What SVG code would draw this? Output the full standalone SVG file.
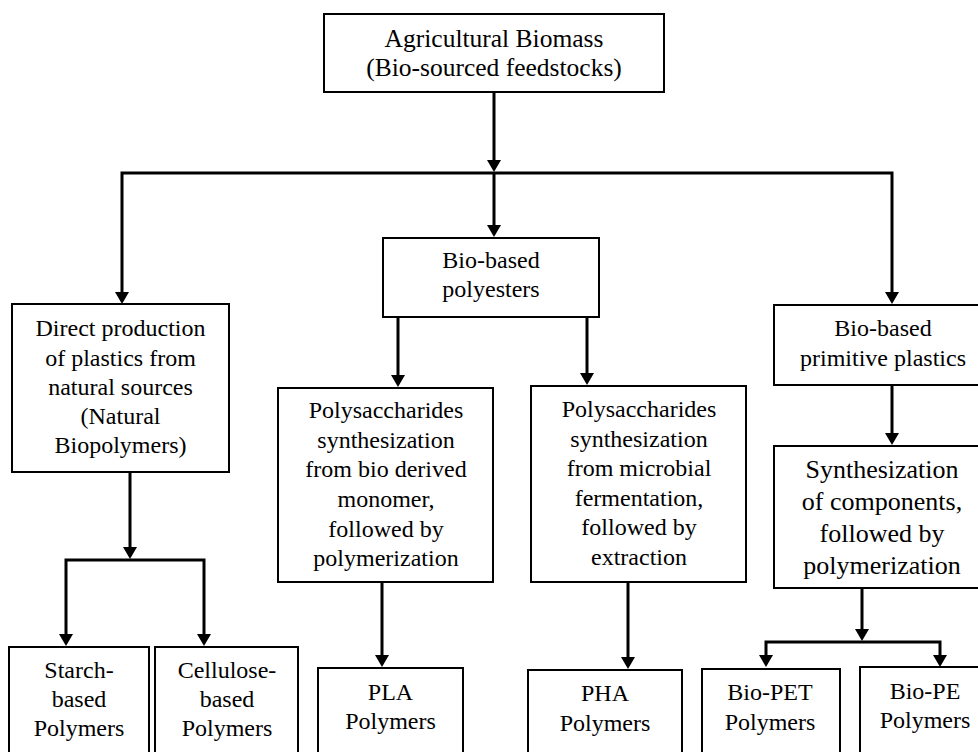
<svg xmlns="http://www.w3.org/2000/svg" width="978" height="752" viewBox="0 0 978 752">
<defs>
<style>
.box{fill:#fff;stroke:#000;stroke-width:2}
.lbl{font-size:24px;fill:#000;text-anchor:middle}
.big{font-size:25.5px}
.syn{font-size:26px}
.c{fill:none;stroke:#000;stroke-width:3}
</style>
<marker id="ah" markerUnits="userSpaceOnUse" markerWidth="12" markerHeight="14" viewBox="0 0 12 14" refX="8" refY="7" orient="auto-start-reverse">
<path d="M0,0 L12,7 L0,14 z" fill="#000"/>
</marker>
</defs>
<rect width="978" height="752" fill="#fff"/>
<g id="connectors">
<path class="c" d="M494,92 V168" marker-end="url(#ah)"/>
<path class="c" d="M122,300 V173 H892 V300" marker-start="url(#ah)" marker-end="url(#ah)"/>
<path class="c" d="M494,173 V233" marker-end="url(#ah)"/>
<path class="c" d="M398,317 V383" marker-end="url(#ah)"/>
<path class="c" d="M587,317 V381" marker-end="url(#ah)"/>
<path class="c" d="M382,582 V663" marker-end="url(#ah)"/>
<path class="c" d="M628,582 V665" marker-end="url(#ah)"/>
<path class="c" d="M892,385 V441" marker-end="url(#ah)"/>
<path class="c" d="M862,588 V637" marker-end="url(#ah)"/>
<path class="c" d="M766,663 V642 H940 V663" marker-start="url(#ah)" marker-end="url(#ah)"/>
<path class="c" d="M130,472 V555" marker-end="url(#ah)"/>
<path class="c" d="M66,642 V560 H204 V642" marker-start="url(#ah)" marker-end="url(#ah)"/>
</g>
<g id="biomass">
<rect class="box" x="324" y="14" width="340" height="78"/>
<text class="lbl big" style="font-family:'Liberation Serif',serif !important" x="494" y="47">Agricultural Biomass</text>
<text class="lbl big" style="font-family:'Liberation Serif',serif !important" x="494" y="76">(Bio-sourced feedstocks)</text>
</g>
<g id="polyesters">
<rect class="box" x="383" y="238" width="216" height="79"/>
<text class="lbl" style="font-family:'Liberation Serif',serif !important" x="491" y="268">Bio-based</text>
<text class="lbl" style="font-family:'Liberation Serif',serif !important" x="491" y="297">polyesters</text>
</g>
<g id="direct">
<rect class="box" x="12" y="304" width="217" height="168"/>
<text class="lbl" style="font-family:'Liberation Serif',serif !important" x="120.5" y="336">Direct production</text>
<text class="lbl" style="font-family:'Liberation Serif',serif !important" x="120.5" y="366">of plastics from</text>
<text class="lbl" style="font-family:'Liberation Serif',serif !important" x="120.5" y="395">natural sources</text>
<text class="lbl" style="font-family:'Liberation Serif',serif !important" x="120.5" y="424">(Natural</text>
<text class="lbl" style="font-family:'Liberation Serif',serif !important" x="120.5" y="453">Biopolymers)</text>
</g>
<g id="primitive">
<rect class="box" x="774" y="305" width="220" height="80"/>
<text class="lbl" style="font-family:'Liberation Serif',serif !important" x="883" y="336">Bio-based</text>
<text class="lbl" style="font-family:'Liberation Serif',serif !important" x="883" y="366">primitive plastics</text>
</g>
<g id="pla-process">
<rect class="box" x="278" y="388" width="215" height="194"/>
<text class="lbl" style="font-family:'Liberation Serif',serif !important" x="386" y="418">Polysaccharides</text>
<text class="lbl" style="font-family:'Liberation Serif',serif !important" x="386" y="448">synthesization</text>
<text class="lbl" style="font-family:'Liberation Serif',serif !important" x="386" y="477">from bio derived</text>
<text class="lbl" style="font-family:'Liberation Serif',serif !important" x="386" y="507">monomer,</text>
<text class="lbl" style="font-family:'Liberation Serif',serif !important" x="386" y="537">followed by</text>
<text class="lbl" style="font-family:'Liberation Serif',serif !important" x="386" y="566">polymerization</text>
</g>
<g id="pha-process">
<rect class="box" x="531" y="386" width="215" height="196"/>
<text class="lbl" style="font-family:'Liberation Serif',serif !important" x="639" y="417">Polysaccharides</text>
<text class="lbl" style="font-family:'Liberation Serif',serif !important" x="639" y="447">synthesization</text>
<text class="lbl" style="font-family:'Liberation Serif',serif !important" x="639" y="476">from microbial</text>
<text class="lbl" style="font-family:'Liberation Serif',serif !important" x="639" y="506">fermentation,</text>
<text class="lbl" style="font-family:'Liberation Serif',serif !important" x="639" y="535">followed by</text>
<text class="lbl" style="font-family:'Liberation Serif',serif !important" x="639" y="565">extraction</text>
</g>
<g id="synthesization">
<rect class="box" x="774" y="446" width="220" height="142"/>
<text class="lbl syn" style="font-family:'Liberation Serif',serif !important" x="882" y="478">Synthesization</text>
<text class="lbl syn" style="font-family:'Liberation Serif',serif !important" x="882" y="510">of components,</text>
<text class="lbl syn" style="font-family:'Liberation Serif',serif !important" x="882" y="542">followed by</text>
<text class="lbl syn" style="font-family:'Liberation Serif',serif !important" x="882" y="574">polymerization</text>
</g>
<g id="starch">
<rect class="box" x="9" y="647" width="140" height="120"/>
<text class="lbl" style="font-family:'Liberation Serif',serif !important" x="79" y="678">Starch-</text>
<text class="lbl" style="font-family:'Liberation Serif',serif !important" x="79" y="707">based</text>
<text class="lbl" style="font-family:'Liberation Serif',serif !important" x="79" y="736">Polymers</text>
</g>
<g id="cellulose">
<rect class="box" x="155" y="647" width="143" height="120"/>
<text class="lbl" style="font-family:'Liberation Serif',serif !important" x="227" y="678">Cellulose-</text>
<text class="lbl" style="font-family:'Liberation Serif',serif !important" x="227" y="707">based</text>
<text class="lbl" style="font-family:'Liberation Serif',serif !important" x="227" y="736">Polymers</text>
</g>
<g id="pla">
<rect class="box" x="318" y="668" width="145" height="100"/>
<text class="lbl" style="font-family:'Liberation Serif',serif !important" x="390.5" y="700">PLA</text>
<text class="lbl" style="font-family:'Liberation Serif',serif !important" x="390.5" y="729">Polymers</text>
</g>
<g id="pha">
<rect class="box" x="528" y="670" width="154" height="100"/>
<text class="lbl" style="font-family:'Liberation Serif',serif !important" x="605" y="701">PHA</text>
<text class="lbl" style="font-family:'Liberation Serif',serif !important" x="605" y="731">Polymers</text>
</g>
<g id="bio-pet">
<rect class="box" x="702" y="669" width="138" height="100"/>
<text class="lbl" style="font-family:'Liberation Serif',serif !important" x="770" y="700">Bio-PET</text>
<text class="lbl" style="font-family:'Liberation Serif',serif !important" x="770" y="730">Polymers</text>
</g>
<g id="bio-pe">
<rect class="box" x="860" y="667" width="130" height="100"/>
<text class="lbl" style="font-family:'Liberation Serif',serif !important" x="925" y="699">Bio-PE</text>
<text class="lbl" style="font-family:'Liberation Serif',serif !important" x="925" y="728">Polymers</text>
</g>
</svg>
